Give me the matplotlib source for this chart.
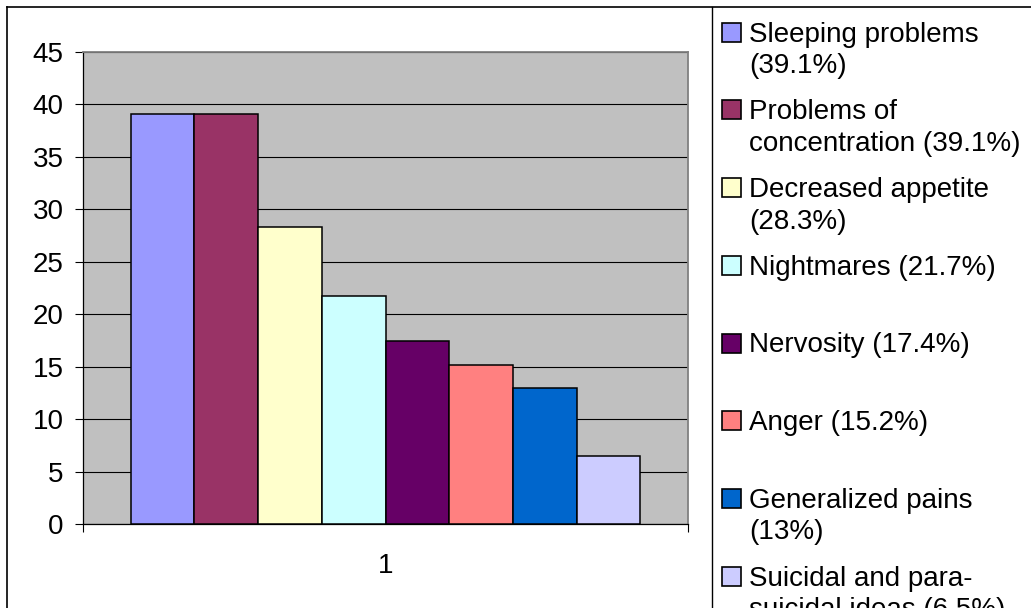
import matplotlib
matplotlib.use("Agg")
import matplotlib.pyplot as plt
from matplotlib.patches import Rectangle
from matplotlib.lines import Line2D

plt.rcParams['font.family'] = ['Liberation Sans', 'DejaVu Sans']

categories = ["1"]
labels = ["Sleeping problems\n(39.1%)",
          "Problems of\nconcentration (39.1%)",
          "Decreased appetite\n(28.3%)",
          "Nightmares (21.7%)",
          "Nervosity (17.4%)",
          "Anger (15.2%)",
          "Generalized pains\n(13%)",
          "Suicidal and para-\nsuicidal ideas (6.5%)"]
values = [39.1, 39.1, 28.3, 21.7, 17.4, 15.2, 13.0, 6.5]
colors = ["#9999FF", "#993366", "#FFFFCC", "#CCFFFF",
          "#660066", "#FF8080", "#0066CC", "#CCCCFF"]
yticks = list(range(0, 50, 5))

W, H = 1031, 608
FS = 20


def fx(x):
    return x / W


def fy(y):
    return 1 - y / H


fig = plt.figure(figsize=(W / 100, H / 100), dpi=100)

# plot area
left, top, right, bottom = 83, 52, 688, 524
ax = fig.add_axes([fx(left), fy(bottom), fx(right - left), (bottom - top) / H])
ax.set_facecolor("#C0C0C0")

n = len(values)
width = 1.0 / (n + 1.5)
for i, (v, c, lab) in enumerate(zip(values, colors, labels)):
    ax.bar((i - (n - 1) / 2) * width, v, width=width, color=c,
           edgecolor="black", linewidth=1.1, zorder=3, label=lab)

ax.set_xlim(-0.5, 0.5)
ax.set_ylim(0, 45)
ax.set_yticks(yticks)
ax.yaxis.grid(True, color="black", linewidth=0.8, zorder=1)
ax.set_axisbelow(True)
ax.tick_params(axis="y", direction="out", length=6, width=0.8, pad=8,
               labelsize=FS, color="black")
ax.set_xticks([0])
ax.set_xticklabels(categories)
ax.set_xticks([-0.5, 0.5], minor=True)
ax.tick_params(axis="x", which="major", length=0, pad=21, labelsize=FS)
ax.tick_params(axis="x", which="minor", direction="out", length=6, width=0.8)

for s in ["left", "bottom"]:
    ax.spines[s].set_color("black")
    ax.spines[s].set_linewidth(0.9)
for s in ["top", "right"]:
    ax.spines[s].set_color("#808080")
    ax.spines[s].set_linewidth(1.3)

# outer chart border (top/left visible) and legend box edge
fig.add_artist(Line2D([fx(7), 1], [fy(7), fy(7)], color="black", linewidth=1.2))
fig.add_artist(Line2D([fx(7), fx(7)], [fy(7), 0], color="black", linewidth=1.2))
fig.add_artist(Line2D([fx(712), fx(712)], [fy(7), 0], color="black", linewidth=1.0))

# legend entries
first_base = 41.7
slot = 77.7
line_step = 31.5
sq_x, sq_size, txt_x = 722, 19, 749
for i, (lab, c) in enumerate(zip(labels, colors)):
    base = first_base + i * slot
    fig.add_artist(Rectangle((fx(sq_x), fy(base)), sq_size / W, sq_size / H,
                             transform=fig.transFigure, facecolor=c,
                             edgecolor="black", linewidth=1.2))
    for j, line in enumerate(lab.split("\n")):
        fig.text(fx(txt_x), fy(base + j * line_step), line, fontsize=FS,
                 va="baseline", ha="left")

fig.savefig("out.png", dpi=100)
